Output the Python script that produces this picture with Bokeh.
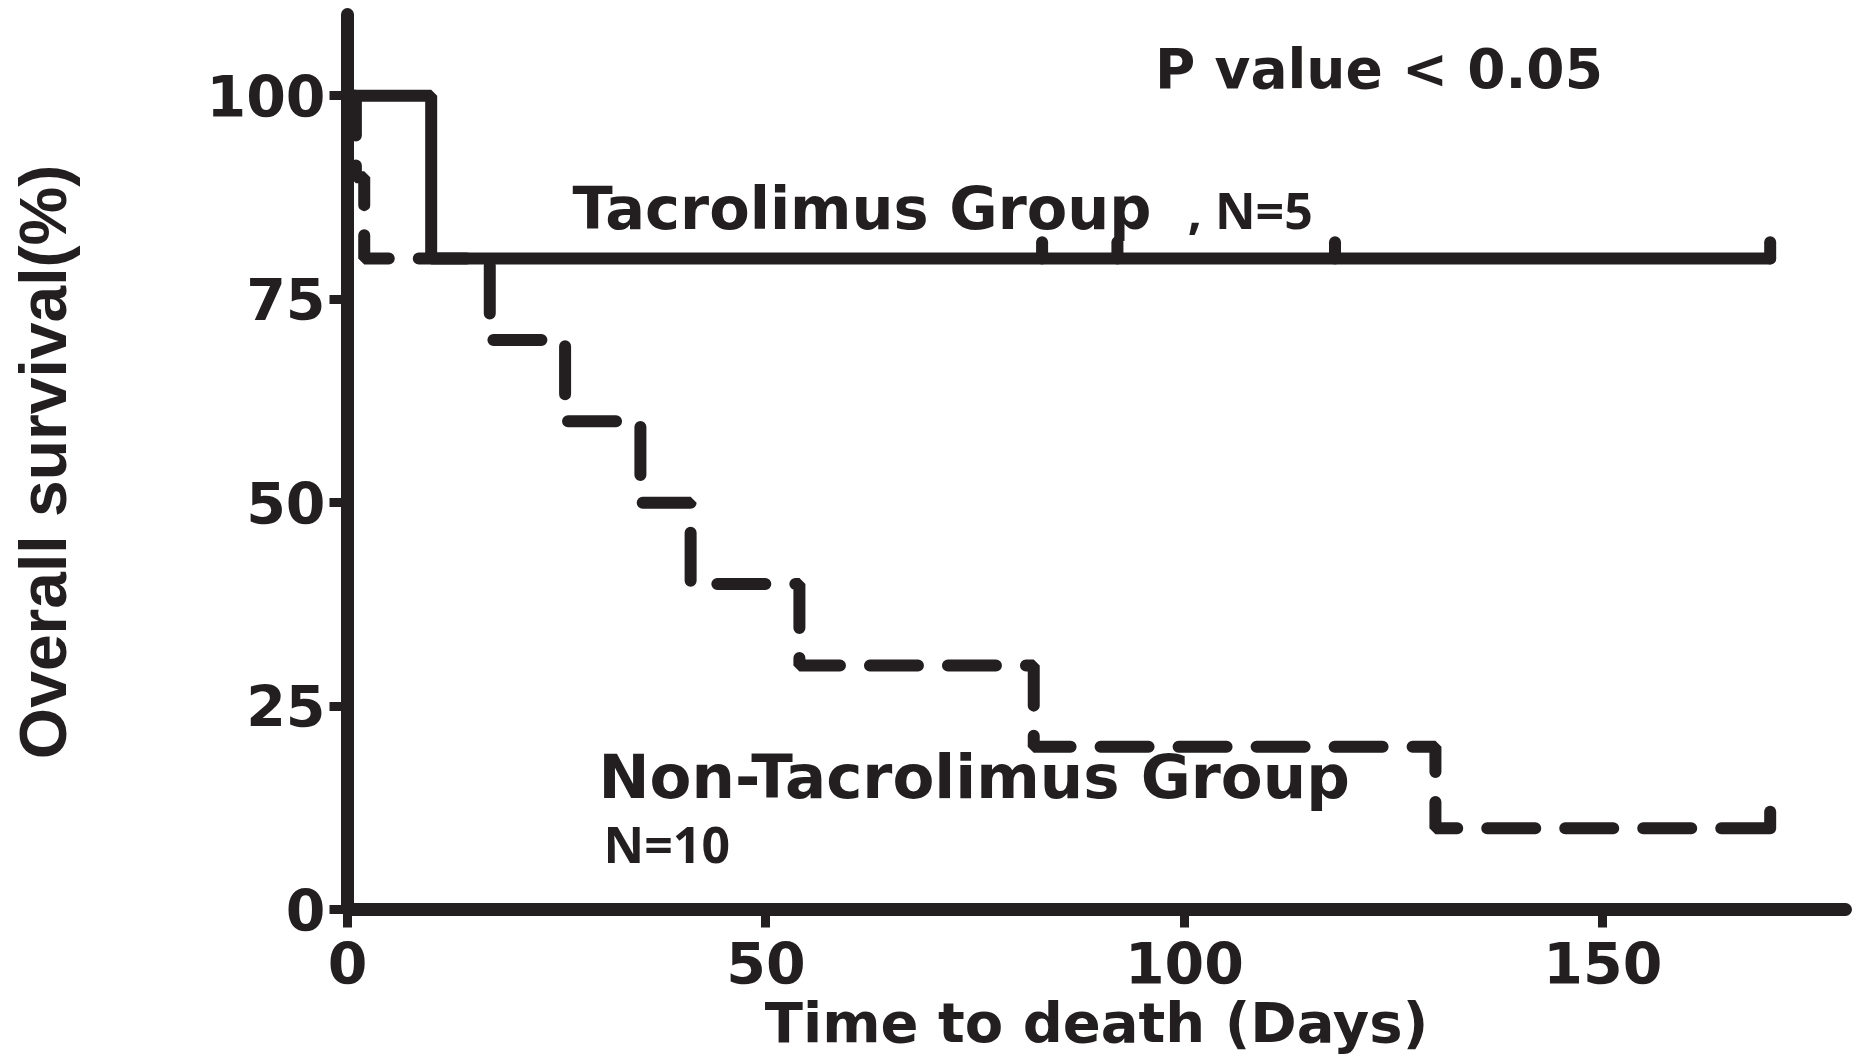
from bokeh.plotting import figure
from bokeh.models import Range1d, FixedTicker, Label
from bokeh.embed import file_html
from bokeh.resources import INLINE

# ---- data ----
tac_time = [0, 10, 170]
tac_surv = [100, 80, 80]
tac_censor_time = [83, 92, 118, 170]
tac_censor_surv = [80, 80, 80, 80]

non_time = [0, 1, 2, 17, 26, 35, 41, 54, 82, 130, 170]
non_surv = [100, 90, 80, 70, 60, 50, 40, 30, 20, 10, 10]
non_censor_time = [170]
non_censor_surv = [10]

x_ticks = [0, 50, 100, 150]
y_ticks = [0, 25, 50, 75, 100]

ink = "#231f20"
censor_len = 2

p = figure(width=1857, height=1058,
           min_border_left=347, min_border_right=12,
           min_border_top=14, min_border_bottom=149,
           x_range=Range1d(0, 179), y_range=Range1d(0, 110),
           output_backend="svg", toolbar_location=None)
p.outline_line_color = None
p.xgrid.grid_line_color = None
p.ygrid.grid_line_color = None
p.background_fill_color = "white"
p.border_fill_color = "white"

# curves
p.step(non_time, non_surv, mode="after", line_color=ink, line_width=12,
       line_dash="48 30", line_cap="round")
p.step(tac_time, tac_surv, mode="after", line_color=ink, line_width=12,
       line_cap="round")

# censor marks
p.segment(x0=tac_censor_time, y0=tac_censor_surv, x1=tac_censor_time,
          y1=[s + censor_len for s in tac_censor_surv],
          line_color=ink, line_width=12, line_cap="round")
p.segment(x0=non_censor_time, y0=non_censor_surv, x1=non_censor_time,
          y1=[s + censor_len for s in non_censor_surv],
          line_color=ink, line_width=12, line_cap="round")

# axes
for ax in (p.xaxis, p.yaxis):
    ax.axis_line_width = 13
    ax.axis_line_color = ink
    ax.axis_line_cap = "round"
    ax.major_tick_line_width = 9
    ax.major_tick_line_color = ink
    ax.major_tick_in = 0
    ax.major_tick_out = 18
    ax.minor_tick_line_color = None
    ax.major_label_text_font = "DejaVu Sans"
    ax.major_label_text_font_style = "bold"
    ax.major_label_text_font_size = "57px"
    ax.major_label_text_color = ink
    ax.axis_label_text_color = ink
    ax.axis_label_text_font_style = "bold"

p.xaxis.ticker = FixedTicker(ticks=x_ticks)
p.yaxis.ticker = FixedTicker(ticks=y_ticks)

p.xaxis.axis_label = "Time to death (Days)"
p.xaxis.axis_label_text_font = "DejaVu Sans"
p.xaxis.axis_label_text_font_size = "56px"
p.xaxis.major_label_standoff = 14
p.xaxis.axis_label_standoff = 3

p.yaxis.axis_label = "Overall survival(%)"
p.yaxis.axis_label_text_font = "Liberation Sans"
p.yaxis.axis_label_text_font_size = "66px"
p.yaxis.major_label_standoff = 4
p.yaxis.axis_label_standoff = 124

# annotations
def lab(x, y, text, font, size):
    p.add_layout(Label(x=x, y=y, text=text, text_font=font,
                       text_font_style="bold", text_font_size=size,
                       text_color=ink, text_baseline="alphabetic",
                       text_align="left"))

lab(96.5, 103.3, "P value < 0.05", "DejaVu Sans", "55px")
lab(26.9, 86.2, "Tacrolimus Group", "DejaVu Sans", "59px")
lab(100.4, 86.0, ", N=5", "Noto Sans", "50px")
lab(30.0, 16.4, "Non-Tacrolimus Group", "DejaVu Sans", "61px")
lab(30.6, 8.1, "N=10", "Noto Sans", "50px")

open("out.html", "w").write(file_html(p, INLINE))
